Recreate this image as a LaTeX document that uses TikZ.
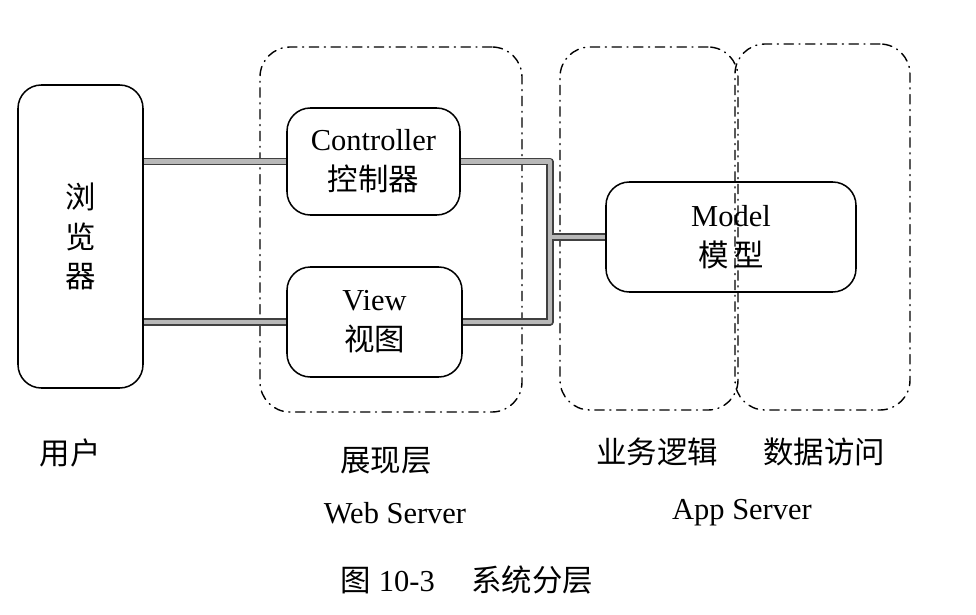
\documentclass[tikz,border=0pt]{standalone}
\usepackage{fontspec}
\setmainfont{Liberation Serif}
\newfontfamily\cjk{Noto Sans CJK SC}
\tikzset{
  box/.style={draw, line width=1.3pt, rounded corners=7mm, align=center, inner sep=0pt},
  layer/.style={draw, line width=1.2pt, rounded corners=9mm, dash pattern=on 2.8mm off 1.7mm on 0.3mm off 1.7mm},
  pipeedge/.style={line width=6pt, draw=black!75, line cap=butt},
  pipefill/.style={line width=3.6pt, draw=black!28, line cap=butt},
}

\begin{document}
\begin{tikzpicture}[line cap=round,line join=round,x=0.3mm,y=-0.3mm,font=\fontsize{26}{34}\selectfont]
        \useasboundingbox (0,0) rectangle (976,614);
        % layers
        \node[layer, minimum width=78.6mm, minimum height=109.5mm] (web) at (391,229.5) {};
        \node[layer, minimum width=53.4mm, minimum height=108.9mm] (biz) at (649,228.5) {};
        \node[layer, minimum width=52.5mm, minimum height=109.8mm] (data) at (822.5,227) {};
        % boxes
        \node[box, minimum width=37.5mm, minimum height=90.9mm] (usr) at (80.5,236.5) {\cjk 浏\\\cjk 览\\\cjk 器};
        \node[box, minimum width=51.9mm, minimum height=32.1mm] (ctrl) at (373.5,161.5) {Controller\\{\cjk 控制器}};
        \node[box, minimum width=52.5mm, minimum height=33mm] (view) at (374.5,322) {View\\{\cjk 视图}};
        \node[box, minimum width=75mm, minimum height=33mm] (model) at (731,237) {Model\\{\cjk 模\,型}};
        \coordinate (hub) at (550,237);
        % pipes
        \foreach \s in {pipeedge,pipefill}{
          \draw[\s] (usr.east |- ctrl.west) -- (ctrl.west);
          \draw[\s] (usr.east |- view.west) -- (view.west);
          \draw[\s] (ctrl.east) -| (hub) |- (view.east);
          \draw[\s] (hub) -- (model.west);
        }
        % labels
        \node (l_usr) at (70,453) {\cjk 用户};
        \node (l_web) at (386,461) {\cjk 展现层};
        \node (l_biz) at (657,452) {\cjk 业务逻辑};
        \node (l_data) at (824,452) {\cjk 数据访问};
        \node (s_web) at (395,513) {Web Server};
        \node (s_app) at (742,513) {App Server};
        \node (cap) at (467,580) {{\cjk 图} 10-3\hspace{1.2em}{\cjk 系统分层}};
      \end{tikzpicture}
\end{document}
